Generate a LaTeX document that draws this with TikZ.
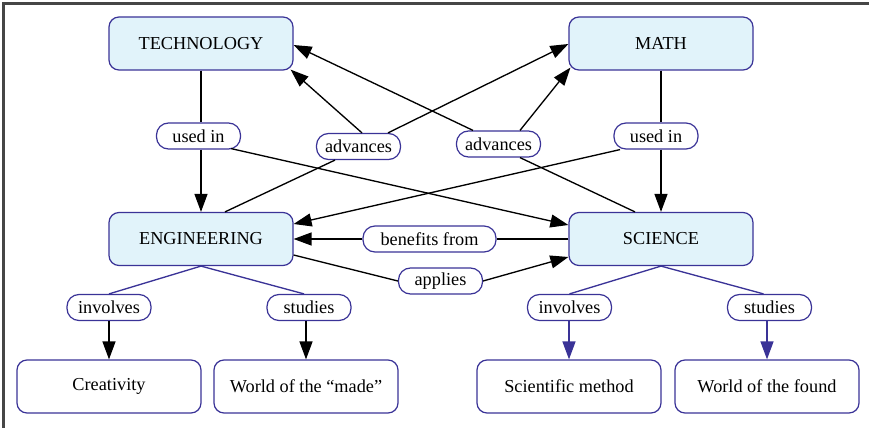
\documentclass[tikz,border=0pt]{standalone}
\usepackage{fontspec}
\setmainfont{Liberation Serif}
\usetikzlibrary{arrows.meta,calc}
\definecolor{edgeblue}{RGB}{58,51,151}
\definecolor{conceptfill}{RGB}{225,243,250}
\definecolor{framegray}{RGB}{70,70,70}
\begin{document}
\begin{tikzpicture}[x=0.75pt,y=-0.75pt,
  font=\fontsize{13.7}{16}\selectfont,
  concept/.style={draw=edgeblue,line width=0.9pt,fill=conceptfill,rounded corners=7.5pt,
    minimum width=138pt,minimum height=39.75pt,inner sep=0pt},
  leaf/.style={concept,fill=white},
  linkword/.style={draw=edgeblue,line width=0.9pt,fill=white,rounded corners=9pt,
    minimum width=63pt,minimum height=19.5pt,inner xsep=4pt,inner ysep=0pt},
  link/.style={line width=1pt,black},
  arr/.style={link,-{Triangle[length=13.5pt,width=9.75pt]}},
  navylink/.style={line width=1pt,edgeblue},
  navyarr/.style={navylink,-{Triangle[length=13.5pt,width=9.75pt]}}]
\useasboundingbox (0,0) rectangle (869,428);
% frame on the top and left sides
\draw[framegray,line width=1.6pt] (869,3.5) -- (3.5,3.5) -- (3.5,428);

% main concepts
\node[concept] (tech) at (201,43.5) {TECHNOLOGY};
\node[concept] (math) at (661,43.5) {MATH};
\node[concept] (eng)  at (201,239) {ENGINEERING};
\node[concept] (sci)  at (661,239) {SCIENCE};

% lower concepts
\node[leaf] (creat)  at (109,386.5) {Creativity};
\node[leaf] (made)   at (306,386.5) {World of the “made”};
\node[leaf] (method) at (569,386.5) {Scientific method};
\node[leaf] (found)  at (767,386.5) {World of the found};

% linking words
\node[linkword] (usedL) at (198.5,136) {used in};
\node[linkword] (usedR) at (656,136) {used in};
\node[linkword] (advL)  at (358.5,146.5) {advances};
\node[linkword] (advR)  at (498.5,144) {advances};
\node[linkword,minimum width=99.75pt] (benef) at (429.5,239) {benefits from};
\node[linkword] (appl)  at (440.5,281) {applies};
\node[linkword] (invE)  at (109,307.5) {involves};
\node[linkword] (studE) at (309,307.5) {studies};
\node[linkword] (invS)  at (569.5,307.5) {involves};
\node[linkword] (studS) at (769.5,307.5) {studies};

% technology used in engineering and science
\draw[link] (tech.south) -- (tech.south |- usedL.north);
\draw[arr] (tech.south |- usedL.south) -- (eng.north);
\draw[arr] ($(usedL.south east)+(-10,-1)$) -- ($(sci.west)+(0,-14)$);

% math used in science and engineering
\draw[link] (math.south) -- (math.south |- usedR.north);
\draw[arr] (math.south |- usedR.south) -- (sci.north);
\draw[arr] ($(usedR.south)+(-36,0)$) -- ($(eng.east)+(0,-15)$);

% engineering advances math and technology
\draw[link] ($(eng.north)+(24,0)$) -- ($(advL.south)+(-23.5,0)$);
\draw[arr] ($(advL.north)+(29.5,0)$) -- ($(math.west)+(0,0.5)$);
\draw[arr] ($(advL.north)+(3.5,0)$) -- ($(tech.south east)+(-3,-1)$);

% science advances technology and math
\draw[link] ($(sci.north)+(-26,0)$) -- ($(advR.south)+(21.5,0)$);
\draw[arr] ($(advR.north)+(-25.5,0)$) -- ($(tech.east)+(0,1.5)$);
\draw[arr] ($(advR.north)+(21.5,0)$) -- ($(math.south west)+(2,-3)$);

% engineering benefits from science, engineering applies science
\draw[link] (sci.west) -- (benef.east);
\draw[arr] (benef.west) -- (eng.east);
\draw[link] ($(eng.east)+(0,16)$) -- (appl.west);
\draw[arr] (appl.east) -- ($(sci.west)+(0,18)$);

% engineering branches
\draw[navylink] (eng.south) -- (invE.north);
\draw[navylink] (eng.south) -- ($(studE.north)+(-5,0)$);
\draw[arr] (invE.south) -- (creat.north);
\draw[arr] (made.north |- studE.south) -- (made.north);

% science branches
\draw[navylink] (sci.south) -- (invS.north);
\draw[navylink] (sci.south) -- ($(studS.north)+(-6,0)$);
\draw[navyarr] (method.north |- invS.south) -- (method.north);
\draw[navyarr] (found.north |- studS.south) -- (found.north);
\end{tikzpicture}
\end{document}
